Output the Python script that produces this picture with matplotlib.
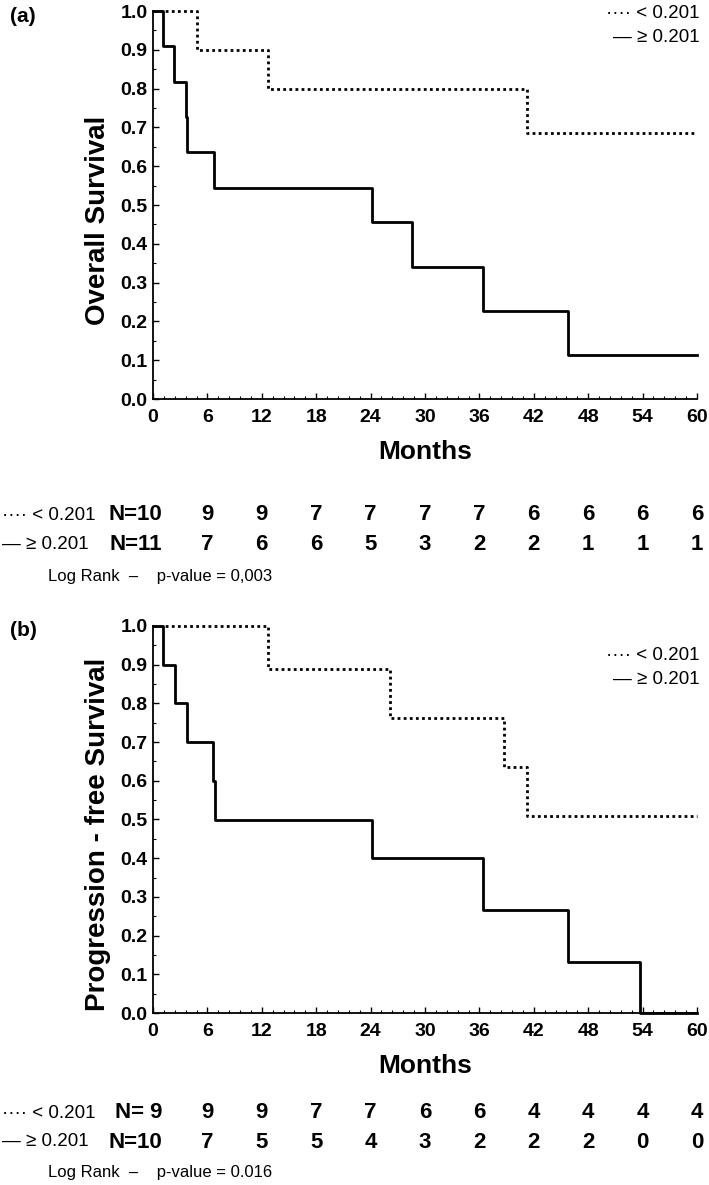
import matplotlib
matplotlib.use("Agg")
import matplotlib.pyplot as plt
import matplotlib.transforms as mtransforms
from matplotlib.ticker import MultipleLocator

plt.rcParams['font.family'] = ['Liberation Sans', 'DejaVu Sans']

# data
months = [0, 6, 12, 18, 24, 30, 36, 42, 48, 54, 60]

# (a) overall survival
a_low_t = [0, 4.9, 12.7, 41.3, 60]
a_low_s = [1.0, 0.9, 0.8, 0.686, 0.686]
a_high_t = [0, 1.1, 2.3, 3.6, 3.8, 6.7, 24.2, 28.6, 36.4, 45.8, 60]
a_high_s = [1.0, 0.909, 0.818, 0.727, 0.636, 0.545, 0.455, 0.341, 0.227, 0.114, 0.114]
a_low_n = [10, 9, 9, 7, 7, 7, 7, 6, 6, 6, 6]
a_high_n = [11, 7, 6, 6, 5, 3, 2, 2, 1, 1, 1]

# (b) progression-free survival
b_low_t = [0, 12.7, 26.1, 38.7, 41.2, 60]
b_low_s = [1.0, 0.889, 0.762, 0.635, 0.508, 0.508]
b_high_t = [0, 1.1, 2.4, 3.8, 6.6, 6.8, 24.2, 36.4, 45.8, 53.7, 60]
b_high_s = [1.0, 0.9, 0.8, 0.7, 0.6, 0.5, 0.4, 0.267, 0.133, 0.0, 0.0]
b_low_n = [9, 9, 9, 7, 7, 6, 6, 4, 4, 4, 4]
b_high_n = [10, 7, 5, 5, 4, 3, 2, 2, 2, 0, 0]

W, H = 709, 1185
fig = plt.figure(figsize=(W / 100, H / 100), dpi=100)


def fy(y):
    return 1 - y / H


def fx(x):
    return x / W


def panel(top, bottom, tag, ylabel, low_t, low_s, high_t, high_s, low_n, high_n,
          first_low, first_high, pval, leg_y, rows_y):
    ax = fig.add_axes([fx(153), fy(bottom), fx(697) - fx(153), fy(top) - fy(bottom)])
    ax.step(low_t, low_s, where='post', color='black', lw=2.0,
            linestyle=(0, (1, 1.2)), clip_on=False)
    ax.step(high_t, high_s, where='post', color='black', lw=2.0, clip_on=False)
    ax.set_xlim(0, 60)
    ax.set_ylim(0, 1.0)
    ax.spines['top'].set_visible(False)
    ax.spines['right'].set_visible(False)
    for s in ('left', 'bottom'):
        ax.spines[s].set_linewidth(1.3)
    ax.xaxis.set_major_locator(MultipleLocator(6))
    ax.xaxis.set_minor_locator(MultipleLocator(1.2))
    ax.yaxis.set_major_locator(MultipleLocator(0.1))
    ax.yaxis.set_minor_locator(MultipleLocator(0.05))
    ax.tick_params(which='major', direction='in', length=4, width=1.0, labelsize=14)
    ax.tick_params(axis='x', which='major', pad=7)
    ax.tick_params(axis='y', which='major', pad=4)
    ax.tick_params(which='minor', direction='in', length=2, width=0.8)
    ax.set_yticklabels(['%.1f' % v for v in ax.get_yticks()])
    for lab in ax.get_xticklabels() + ax.get_yticklabels():
        lab.set_fontweight('bold')

    fig.text(fx(425), fy(bottom + 53), 'Months', ha='center', va='center',
             fontsize=19, fontweight='bold')
    fig.text(fx(98), fy((top + bottom) / 2 + 15), ylabel, rotation=90, ha='center',
             va='center', fontsize=20, fontweight='bold')
    fig.text(fx(10), fy(top + 5), tag, ha='left', va='center', fontsize=15,
             fontweight='bold')

    # legend
    fig.text(fx(700), fy(leg_y), '\u00b7\u00b7\u00b7\u00b7 < 0.201', ha='right',
             va='center', fontsize=13.5)
    fig.text(fx(700), fy(leg_y + 25), '\u2014 \u2265 0.201', ha='right',
             va='center', fontsize=13.5)

    # numbers at risk
    tr = mtransforms.blended_transform_factory(ax.transData, fig.transFigure)
    for yy, lab, first, ns in ((rows_y[0], '\u00b7\u00b7\u00b7\u00b7 < 0.201', first_low, low_n),
                               (rows_y[1], '\u2014 \u2265 0.201', first_high, high_n)):
        fig.text(fx(2), fy(yy), lab, ha='left', va='center', fontsize=13.5)
        ax.text(1.0, fy(yy), first, transform=tr, ha='right', va='center',
                fontsize=16, fontweight='bold')
        for m, n in zip(months[1:], ns[1:]):
            ax.text(m, fy(yy), str(n), transform=tr, ha='center', va='center',
                    fontsize=16, fontweight='bold')
    fig.text(fx(48), fy(rows_y[2]), 'Log Rank  \u2013    ' + pval, ha='left',
             va='center', fontsize=12)
    return ax


panel(11, 399, '(a)', 'Overall Survival', a_low_t, a_low_s, a_high_t, a_high_s,
      a_low_n, a_high_n, 'N=10', 'N=11', 'p-value = 0,003', 13, (515, 545, 577))
panel(626, 1013, '(b)', 'Progression - free Survival', b_low_t, b_low_s, b_high_t,
      b_high_s, b_low_n, b_high_n, 'N= 9', 'N=10', 'p-value = 0.016', 655,
      (1113, 1142, 1172))

fig.savefig('out.png', dpi=100)
